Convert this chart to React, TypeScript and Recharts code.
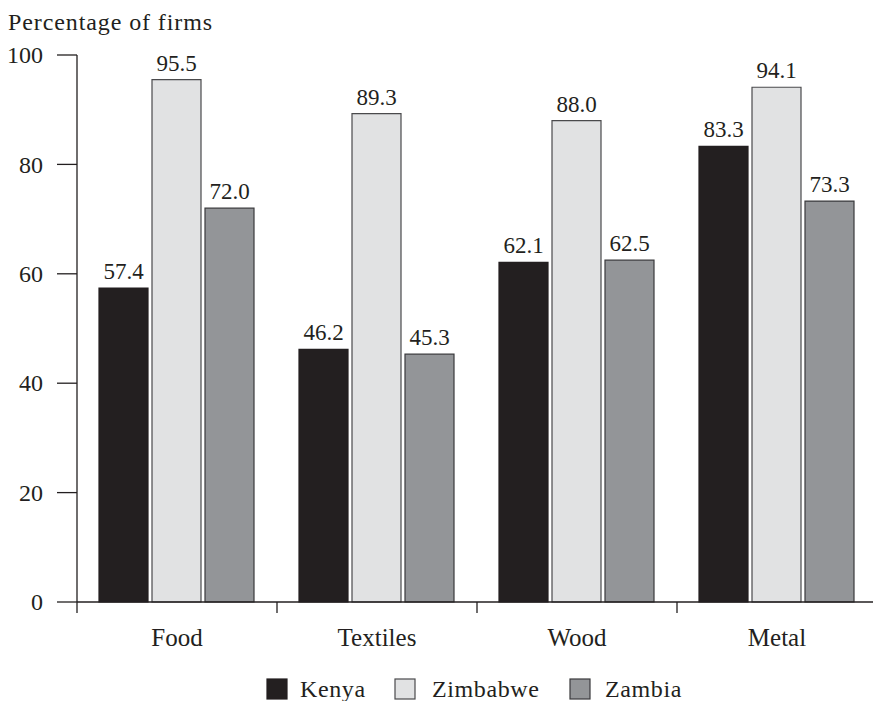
import React from 'react';
import { BarChart, Bar, XAxis, YAxis, LabelList } from 'recharts';

const categories = ['Food', 'Textiles', 'Wood', 'Metal'];
const kenya = [57.4, 46.2, 62.1, 83.3];
const zimbabwe = [95.5, 89.3, 88.0, 94.1];
const zambia = [72.0, 45.3, 62.5, 73.3];
const yTicks = [0, 20, 40, 60, 80, 100];
const seriesNames = ['Kenya', 'Zimbabwe', 'Zambia'];
const seriesFills = ['#231f20', '#e1e2e3', '#939598'];
const seriesStrokes = ['#231f20', '#4a4a4c', '#3a3a3c'];
const yTitle = 'Percentage of firms';

const INK = '#231f20';
const FONT = 'Liberation Serif, serif';

const legendSquareX = [267, 395, 570];
const legendTextX = [300, 432, 605];

const data = categories.map((c, i) => ({
  category: c,
  Kenya: kenya[i],
  Zimbabwe: zimbabwe[i],
  Zambia: zambia[i],
}));

const XTick = (props: any) => {
  const { x, y, payload } = props;
  const half = payload && typeof payload.offset === 'number' && payload.offset > 0 ? payload.offset : 100;
  const isLast = payload && payload.index === categories.length - 1;
  return (
    <g>
      <line x1={x - half} x2={x - half} y1={y - 11} y2={y} stroke={INK} strokeWidth={1.3} />
      {isLast && <line x1={x + half} x2={x + half} y1={y - 11} y2={y} stroke={INK} strokeWidth={1.3} />}
      <text x={x} y={y + 33} textAnchor="middle" fontFamily={FONT} fontSize={25} fill={INK}>
        {payload.value}
      </text>
    </g>
  );
};

const YTick = (props: any) => {
  const { x, y, payload } = props;
  return (
    <text x={x} y={y} dy="0.34em" textAnchor="end" fontFamily={FONT} fontSize={24} fill={INK}>
      {payload.value}
    </text>
  );
};

const BarLabel = (props: any) => {
  const { x, y, width, value } = props;
  const txt = typeof value === 'number' ? value.toFixed(1) : value;
  return (
    <text x={Number(x) + Number(width) / 2} y={Number(y) - 9} textAnchor="middle" fontFamily={FONT} fontSize={23} fill={INK}>
      {txt}
    </text>
  );
};

export default function App() {
  return (
    <div style={{ position: 'absolute', left: 0, top: 0, width: 873, height: 701, overflow: 'hidden', background: '#fff' }}>
      <div style={{ position: 'absolute', left: 0, top: 0 }}>
        <BarChart
          width={880}
          height={701}
          data={data}
          margin={{ top: 55, right: 3, bottom: 0, left: 0 }}
          barCategoryGap={22}
          barGap={4}
        >
          <XAxis
            dataKey="category"
            interval={0}
            height={99}
            tickLine={false}
            tickSize={11}
            tickMargin={0}
            axisLine={{ stroke: INK, strokeWidth: 1.3 }}
            tick={<XTick />}
          />
          <YAxis
            width={77}
            domain={[0, 100]}
            ticks={yTicks}
            interval={0}
            tickSize={20}
            tickMargin={14}
            axisLine={{ stroke: INK, strokeWidth: 1.3 }}
            tickLine={{ stroke: INK, strokeWidth: 1.3 }}
            tick={<YTick />}
          />
          {seriesNames.map((name, i) => (
            <Bar
              key={name}
              dataKey={name}
              fill={seriesFills[i]}
              stroke={seriesStrokes[i]}
              strokeWidth={1.2}
              isAnimationActive={false}
            >
              <LabelList dataKey={name} content={<BarLabel />} />
            </Bar>
          ))}
        </BarChart>
      </div>
      <svg
        width={873}
        height={701}
        style={{ position: 'absolute', left: 0, top: 0, pointerEvents: 'none' }}
      >
        <text x={8} y={30} fontFamily={FONT} fontSize={24} letterSpacing={0.9} fill={INK}>
          {yTitle}
        </text>
        {seriesNames.map((name, i) => (
          <g key={name}>
            <rect
              x={legendSquareX[i]}
              y={679}
              width={20}
              height={20}
              fill={seriesFills[i]}
              stroke={seriesStrokes[i]}
              strokeWidth={1.2}
            />
            <text x={legendTextX[i]} y={697} fontFamily={FONT} fontSize={24} letterSpacing={0.6} fill={INK}>
              {name}
            </text>
          </g>
        ))}
      </svg>
    </div>
  );
}
